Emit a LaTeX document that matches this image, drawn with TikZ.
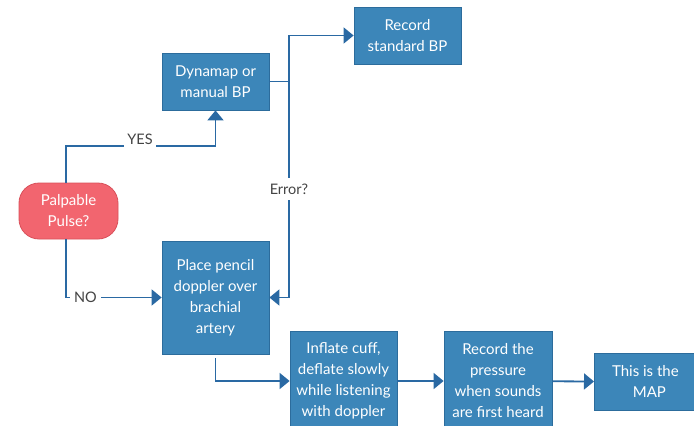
\documentclass[tikz,border=0pt]{standalone}
\usepackage{fontspec}
\setmainfont{Lato}
\usetikzlibrary{arrows.meta}
\definecolor{boxfill}{HTML}{3C86B9}
\definecolor{boxline}{HTML}{2C6C9C}
\definecolor{linec}{HTML}{2A69A3}
\definecolor{redfill}{HTML}{F2656F}
\definecolor{redline}{HTML}{D9505A}
\definecolor{labc}{HTML}{444444}
\tikzset{
  bx/.style={draw=boxline, line width=0.8pt, fill=boxfill, text=white, align=center,
    font=\fontsize{15}{21}\selectfont, inner sep=0pt},
  conn/.style={draw=linec, line width=1.8pt},
  arr/.style={conn, -{Triangle[length=10pt,width=16pt]}},
  lab/.style={fill=white, text=labc, font=\fontsize{14.5}{16}\selectfont, inner sep=3pt, minimum height=22pt}
}
\begin{document}
\begin{tikzpicture}[x=1pt,y=-1pt]
\useasboundingbox (0,0) rectangle (694,426);
\clip (0,0) rectangle (694,426);
\fill[white] (0,0) rectangle (694,426);
\node[bx, minimum width=107pt, minimum height=57pt] (dyn) at (215.5,81.5) {Dynamap or\\manual BP};
\node[bx, minimum width=107pt, minimum height=57pt] (rec) at (407.5,35.5) {Record\\standard BP};
\node[bx, draw=redline, fill=redfill, rounded corners=20pt, minimum width=99pt, minimum height=56pt] (pal) at (68.5,211) {Palpable\\Pulse?};
\node[bx, minimum width=107pt, minimum height=113pt] (pen) at (215.5,297.5) {Place pencil\\doppler over\\brachial\\artery};
\node[bx, minimum width=107pt, minimum height=100pt] (inf) at (343.5,381) {Inflate cuff,\\deflate slowly\\while listening\\with doppler};
\node[bx, minimum width=108pt, minimum height=100pt] (prs) at (498,381) {Record the\\pressure\\when sounds\\are first heard};
\node[bx, minimum width=106pt, minimum height=57pt, anchor=west] (map) at (594,381.5) {\hspace*{-4pt}This is the\\MAP\hspace*{-4pt}};
\coordinate (yA) at (66,146);
\coordinate (yB) at (215.5,146);
\coordinate (eT) at (289,35.5);
\coordinate (eM) at (289,81.5);
\coordinate (eB) at (289,297.5);
\coordinate (nA) at (66,297.5);
\coordinate (pA) at (215.5,358);
\coordinate (pB) at (215.5,381);
\draw[arr] (pal.north -| yA) -- (yA) -- (yB) -- (dyn.south);
\draw[conn] (dyn.east) -- (eM);
\draw[arr] (eM) -- (eT) -- (rec.west);
\draw[arr] (eM) -- (eB) -- (pen.east);
\draw[arr] (pal.south -| nA) -- (nA) -- (pen.west);
\draw[arr] (pA) -- (pB) -- (inf.west);
\draw[arr] (inf) -- (prs.west);
\draw[arr] (prs) -- (map.west);
\node[lab] (yes) at (140,139) {YES};
\node[lab] (err) at (289,189) {Error?};
\node[lab, inner sep=4pt] (no) at (85.5,297.5) {NO};
\end{tikzpicture}
\end{document}
